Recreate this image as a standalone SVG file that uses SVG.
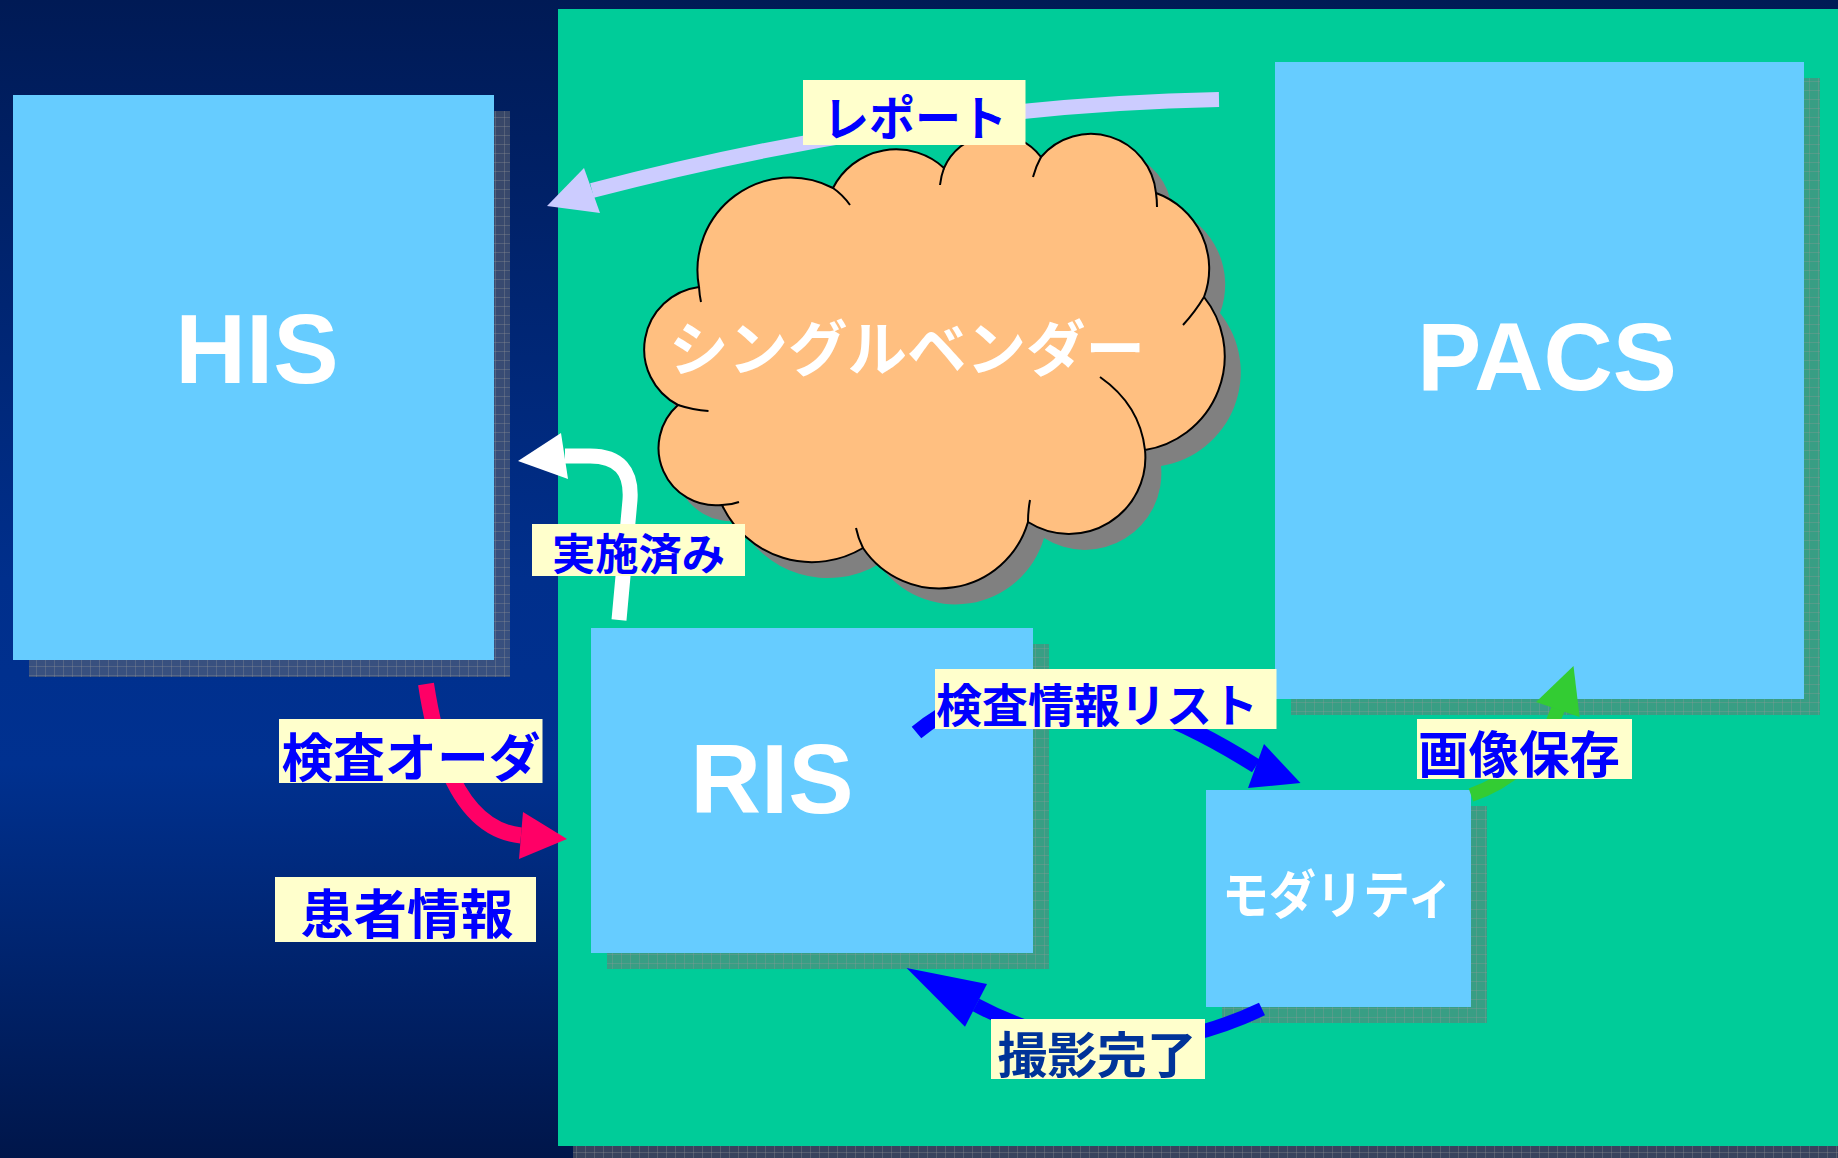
<svg xmlns="http://www.w3.org/2000/svg" width="1838" height="1158" viewBox="0 0 1838 1158">
<defs>
<linearGradient id="bg" x1="0" y1="0" x2="0" y2="1">
<stop offset="0" stop-color="#001a55"/>
<stop offset="0.5" stop-color="#002f8c"/>
<stop offset="0.66" stop-color="#003190"/>
<stop offset="1" stop-color="#00164a"/>
</linearGradient>
<pattern id="shp" width="9" height="9" patternUnits="userSpaceOnUse">
<rect width="9" height="9" fill="#707070" fill-opacity="0.5"/>
<path d="M0 0.5H9M0.5 0V9" stroke="#9a9a9a" stroke-opacity="0.3" stroke-width="1"/>
</pattern>
<path id="cloudShape" d="M699,287 A92.7,92.7 0 0 1 833,188 A70.8,70.8 0 0 1 944,168 A56.5,56.5 0 0 1 1041,157 A65.4,65.4 0 0 1 1156,193 A80.3,80.3 0 0 1 1204,297 A95,95 0 0 1 1145,450 A76.4,76.4 0 0 1 1028,522 A92.3,92.3 0 0 1 863,548 A99.4,99.4 0 0 1 722,505 A57.3,57.3 0 0 1 678,405 A62.8,62.8 0 0 1 699,287 Z"/>
</defs>
<style>
.box{fill:#66ccff}
.shadow{fill:url(#shp)}
.big{font-family:'Liberation Sans',Arial,sans-serif;font-weight:700;fill:#ffffff;text-anchor:middle}
.jw{font-family:'Noto Sans CJK JP','Noto Sans CJK SC',sans-serif;font-weight:700;fill:#ffffff;text-anchor:middle}
.lbl{fill:#ffffcc}
.lt{font-family:'Noto Sans CJK JP','Noto Sans CJK SC',sans-serif;font-weight:700;fill:#0000ff;text-anchor:middle}
.conn{fill:none}
.inner{fill:none;stroke:#000;stroke-width:2}
</style>

<rect x="0" y="0" width="1838" height="1158" fill="url(#bg)"/>

<g id="panel">
<rect class="shadow" x="573" y="24" width="1300" height="1134"/>
<rect x="558" y="9" width="1290" height="1137" fill="#00cc99"/>
</g>

<g id="his">
<rect class="shadow" x="29" y="111" width="481" height="566"/>
<rect class="box" x="13" y="95" width="481" height="565"/>
<text class="big" x="257" y="383" font-size="98">HIS</text>
</g>

<g id="pacs">
<rect class="shadow" x="1291" y="78" width="529" height="637"/>
<rect class="box" x="1275" y="62" width="529" height="637"/>
<text class="big" x="1547" y="390" font-size="96">PACS</text>
</g>

<g id="ris">
<rect class="shadow" x="607" y="644" width="442" height="325"/>
<rect class="box" x="591" y="628" width="442" height="325"/>
<text class="big" x="772" y="813" font-size="98">RIS</text>
</g>

<g id="modality">
<rect class="shadow" x="1222" y="806" width="265" height="217"/>
<rect class="box" x="1206" y="790" width="265" height="217"/>
<text class="jw" x="1338" y="914" font-size="52" textLength="232" lengthAdjust="spacingAndGlyphs">モダリティ</text>
</g>

<g id="cloud">
<use href="#cloudShape" transform="translate(16,16)" fill="#808080"/>
<use href="#cloudShape" fill="#ffbf80" stroke="#000" stroke-width="2"/>
<path class="inner" d="M699,287 Q699.5,295 701,302 M833,188 Q843,195 850,205 M944,168 Q941,176 940,185 M1041,157 Q1036,166 1033,177 M1156,193 Q1157,200 1157,207 M1204,297 Q1195,312 1183,325 M1100,377 Q1140,405 1145,450 M1028,522 Q1028,511 1030,500 M863,548 Q858,538 856,528 M722,505 Q731,505 739,502 M678,405 Q693,410 708.5,411"/>
<text class="jw" x="907" y="371" font-size="60" textLength="476" lengthAdjust="spacingAndGlyphs">シングルベンダー</text>
</g>

<g id="connectors">
<g id="c-report">
<path class="conn" d="M1219,99.5 Q920,105 592,190.5" stroke="#ccccff" stroke-width="15"/>
<polygon points="547,206 584,168 600,213" fill="#ccccff"/>
</g>
<g id="c-done">
<path class="conn" d="M619,620 L630,500 Q633,456 590,456 L565,456" stroke="#ffffff" stroke-width="15"/>
<polygon points="518,461 561,433 568,479" fill="#ffffff"/>
</g>
<g id="c-order">
<path class="conn" d="M426,684 Q448,828 521,835.5" stroke="#ff0066" stroke-width="16"/>
<polygon points="567,839 523,812 519,859" fill="#ff0066"/>
</g>
<g id="c-list">
<path class="conn" d="M916.5,732.5 Q1040,630 1256,766" stroke="#0000ff" stroke-width="15"/>
<polygon points="1300.5,783 1264,744 1248,788" fill="#0000ff"/>
</g>
<g id="c-store">
<path class="conn" d="M1471,795 Q1535,773 1558,709" stroke="#33cc33" stroke-width="14"/>
<polygon points="1573.5,666 1536,702 1579.6,717" fill="#33cc33"/>
</g>
<g id="c-complete">
<path class="conn" d="M1262,1009 Q1114,1079 976,1005" stroke="#0000ff" stroke-width="14"/>
<polygon points="906.6,968 987,984 965,1026.7" fill="#0000ff"/>
</g>
</g>

<g id="labels">
<g id="l-report">
<rect class="lbl" x="803" y="80" width="222.5" height="65"/>
<text class="lt" x="915" y="136" font-size="48" textLength="184" lengthAdjust="spacingAndGlyphs">レポート</text>
</g>
<g id="l-done">
<rect class="lbl" x="532" y="524" width="213" height="52"/>
<text class="lt" x="638.5" y="570" font-size="43" textLength="173" lengthAdjust="spacingAndGlyphs">実施済み</text>
</g>
<g id="l-order">
<rect class="lbl" x="279" y="719" width="263.5" height="64"/>
<text class="lt" x="411" y="777" font-size="52" textLength="259" lengthAdjust="spacingAndGlyphs">検査オーダ</text>
</g>
<g id="l-patient">
<rect class="lbl" x="275" y="877" width="261" height="65"/>
<text class="lt" x="407" y="934" font-size="53" textLength="213" lengthAdjust="spacingAndGlyphs">患者情報</text>
</g>
<g id="l-list">
<rect class="lbl" x="935" y="669" width="341.5" height="60"/>
<text class="lt" x="1097" y="722" font-size="46" textLength="322" lengthAdjust="spacingAndGlyphs">検査情報リスト</text>
</g>
<g id="l-store">
<rect class="lbl" x="1417" y="719" width="215" height="60"/>
<text class="lt" x="1519" y="773" font-size="50" textLength="202" lengthAdjust="spacingAndGlyphs">画像保存</text>
</g>
<g id="l-complete">
<rect class="lbl" x="991" y="1019" width="214" height="60"/>
<text class="lt" x="1097" y="1073" font-size="49" textLength="199" lengthAdjust="spacingAndGlyphs" style="fill:#003399">撮影完了</text>
</g>
</g>
</svg>
